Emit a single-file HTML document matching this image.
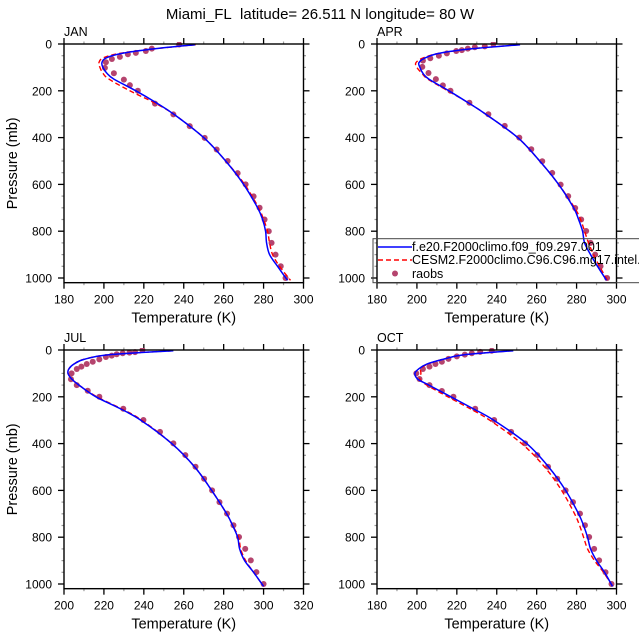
<!DOCTYPE html>
<html><head><meta charset="utf-8"><style>
body{margin:0;background:#fff}
svg{display:block;font-family:"Liberation Sans",Arial,sans-serif}
</style></head><body>
<svg id="chart" width="639" height="639" viewBox="0 0 639 639">
<text x="320" y="19" text-anchor="middle" font-size="15">Miami_FL&#160; latitude= 26.511 N longitude= 80 W</text>
</svg>
<script>
const modelP=[3,20,40,60,80,100,125,150,200,250,300,400,500,600,700,750,800,850,900,950,1010];
const janBlue=[245.7,226,209,201,199,199.5,201.5,205,216,226,235,250,261,270,277,279.5,281,281.5,283,287,292];
const janRed=[246,226,208,199.5,197.5,198,199.5,202.5,213,225,235,250,261,270.5,277.5,280,282,283,284.5,288,293.5];
const aprBlue=[251.7,228,211,204,201,201.5,203,206,216,225.5,234.5,250.5,261.5,271,278.5,281,283,284,287,290.5,295];
const aprRed=[251.5,228,211,203,199.5,200,202.5,205.5,215.5,225.5,234.5,250.5,261.5,271,279,282,284,286,288.5,291.5,295.5];
const julBlue=[254.8,223,210,205,202.5,202,204,207.5,216,228,238.5,254,265.5,274,281.5,284.5,287,288,290.5,295,300];
const julRed=[254.5,223,210,205,202.5,202,204,207.5,216.5,228.5,239,254,265.5,274,281.5,284.5,287.5,288.5,291,295,300];
const octBlue=[248.3,224,213,205,201,199,200.5,206,217,228,238.5,255,266,274.5,281,283.5,285.5,287,290,294,298];
const octRed=[248,224,213,205.5,202,202,201.5,205,215.5,226.5,236.5,252.5,264,272.5,279,281.5,283.5,285.5,289,293.5,298];
const janObsP=[2,20,30,38,44,55,64,78,102,125,152,176,200,255,301,351,401,451,500,552,600,651,700,750,800,850,900,950,1000];
const janObsT=[237.7,224,221,216,212,208,204,201,200.5,205,210,213,217,225.6,234.8,243,250.5,256.5,262,267,271,275,278,280.5,282.6,284,286,288.6,291];
const aprObsP=[0,10,14,20,26,30,40,50,61,71,98,124,150,177,200,251,300,350,400,450,501,551,601,650,701,750,799,850,900,950,1000];
const aprObsT=[238.3,234,229,225.5,222.5,219.7,215,211,206.7,203,202.7,205.8,209.5,213,216.8,226.3,235.8,244,251.3,257.3,262.8,267.8,272,275.8,279.3,282.3,284.8,287,289.3,292,295.3];
const julObsP=[0,9,11,14,18,24,30,40,50,60,71,81,100,125,150,174,200,251,299,350,399,449,499,550,600,650,699,749,799,850,899,949,1000];
const julObsT=[239.3,235.6,232.8,229.4,226.4,223.9,221,217.7,214.4,211.4,208.7,206.4,203.8,203.5,206.4,211.9,217.7,229.7,239.8,248.1,254.8,260.8,265.9,270.2,274.2,277.9,281.7,284.9,287.7,290.8,293.6,296.4,300];
const octObsP=[3,8,14,20,27,38,50,60,71,81,100,124,150,175,200,251,299,350,399,449,499,550,600,650,699,749,799,850,899,950,1000];
const octObsT=[237.5,231.7,227.5,224,220,215.8,212.5,209.3,206.3,203,199.7,201.3,206.3,212.5,218.3,229.2,238.7,247.2,254.2,260.3,265.7,270.3,274.5,278.2,281.7,284.2,286.3,288.8,291.3,294.5,297.5];
const xTicksA=[180,200,220,240,260,280,300];
const xTicksB=[200,220,240,260,280,300,320];
const yTicks=[0,200,400,600,800,1000];

const svg=document.getElementById('chart');
const NS='http://www.w3.org/2000/svg';
function mk(tag,attrs,parent){const e=document.createElementNS(NS,tag);for(const k in attrs)e.setAttribute(k,attrs[k]);(parent||svg).appendChild(e);return e;}

const panels=[
 {name:'jan',label:'JAN',x0:64,y0:44,xmin:180,xmax:300,xt:xTicksA,blue:janBlue,red:janRed,op:janObsP,ot:janObsT,ylab:true},
 {name:'apr',label:'APR',x0:377,y0:44,xmin:180,xmax:300,xt:xTicksA,blue:aprBlue,red:aprRed,op:aprObsP,ot:aprObsT,ylab:false},
 {name:'jul',label:'JUL',x0:64,y0:350,xmin:200,xmax:320,xt:xTicksB,blue:julBlue,red:julRed,op:julObsP,ot:julObsT,ylab:true},
 {name:'oct',label:'OCT',x0:377,y0:350,xmin:180,xmax:300,xt:xTicksA,blue:octBlue,red:octRed,op:octObsP,ot:octObsT,ylab:false}
];
const W=239.5,PS=0.234,PMAX=1020,H=PMAX*PS;

function smoothPath(pts){
 let d='M'+pts[0][0].toFixed(2)+','+pts[0][1].toFixed(2);
 for(let i=0;i<pts.length-1;i++){
  const p0=pts[Math.max(0,i-1)],p1=pts[i],p2=pts[i+1],p3=pts[Math.min(pts.length-1,i+2)];
  const c1=[p1[0]+(p2[0]-p0[0])/6,p1[1]+(p2[1]-p0[1])/6];
  const c2=[p2[0]-(p3[0]-p1[0])/6,p2[1]-(p3[1]-p1[1])/6];
  d+=' C'+c1[0].toFixed(2)+','+c1[1].toFixed(2)+' '+c2[0].toFixed(2)+','+c2[1].toFixed(2)+' '+p2[0].toFixed(2)+','+p2[1].toFixed(2);
 }
 return d;
}

panels.forEach(P=>{
 const g=mk('g',{});
 
 
 const xs=t=>P.x0+(t-P.xmin)/(P.xmax-P.xmin)*W;
 const ys=p=>P.y0+p*PS;
 for(let t=P.xmin;t<=P.xmax;t+=10){
  if((t-P.xmin)%20===0)continue;
  mk('line',{x1:xs(t),x2:xs(t),y1:P.y0,y2:P.y0-2.5,stroke:'#999','stroke-width':1.2},g);
  mk('line',{x1:xs(t),x2:xs(t),y1:P.y0+H,y2:P.y0+H+2.5,stroke:'#999','stroke-width':1.2},g);
 }
 for(let p=50;p<=1000;p+=50){
  if(p%200===0)continue;
  mk('line',{x1:P.x0,x2:P.x0-2.5,y1:ys(p),y2:ys(p),stroke:'#999','stroke-width':1.2},g);
  mk('line',{x1:P.x0+W,x2:P.x0+W+2.5,y1:ys(p),y2:ys(p),stroke:'#999','stroke-width':1.2},g);
 }
 P.xt.forEach(t=>{
  mk('line',{x1:xs(t),x2:xs(t),y1:P.y0,y2:P.y0-6,stroke:'#000','stroke-width':1.3},g);
  mk('line',{x1:xs(t),x2:xs(t),y1:P.y0+H,y2:P.y0+H+6,stroke:'#000','stroke-width':1.3},g);
  const tx=mk('text',{x:xs(t),y:P.y0+H+21,'text-anchor':'middle','font-size':12},g);
  
  
  tx.textContent=t;
 });
 yTicks.forEach(p=>{
  mk('line',{x1:P.x0,x2:P.x0-6,y1:ys(p),y2:ys(p),stroke:'#000','stroke-width':1.3},g);
  mk('line',{x1:P.x0+W,x2:P.x0+W+6,y1:ys(p),y2:ys(p),stroke:'#000','stroke-width':1.3},g);
  const tx=mk('text',{x:P.x0-12,y:ys(p)+4.5,'text-anchor':'end','font-size':12},g);
  
  
  tx.textContent=p;
 });
 const clipId='clip-'+P.name;
 const cp=mk('clipPath',{id:clipId},g);
 mk('rect',{x:P.x0,y:P.y0-2,width:W,height:H+2},cp);
 const dg=mk('g',{'clip-path':'url(#'+clipId+')'},g);
 P.op.forEach((p,i)=>{
  const c=mk('circle',{cx:xs(P.ot[i]),cy:ys(p),r:3,fill:'#b5446e'},dg);
  
  
 });
 const red=mk('path',{d:smoothPath(modelP.map((p,i)=>[xs(P.red[i]),ys(p)])),fill:'none',stroke:'#ff0000','stroke-width':1.4,'stroke-dasharray':'5,3'},dg);
 
 
 const blue=mk('path',{d:smoothPath(modelP.map((p,i)=>[xs(P.blue[i]),ys(p)])),fill:'none',stroke:'#0000ff','stroke-width':1.5},dg);
 
 
 mk('rect',{x:P.x0,y:P.y0,width:W,height:H,fill:'none',stroke:'#000','stroke-width':1.4},g);
 const lb=mk('text',{x:P.x0,y:P.y0-8,'font-size':12.5},g);
 
 
 lb.textContent=P.label;
 const xt=mk('text',{x:P.x0+W/2,y:P.y0+H+40,'text-anchor':'middle','font-size':14.5},g);
 
 
 xt.textContent='Temperature (K)';
 if(P.ylab){
  const yt=mk('text',{x:0,y:0,'text-anchor':'middle','font-size':14.5,transform:'translate(17,'+(P.y0+H/2)+') rotate(-90)'},g);
  
  
  yt.textContent='Pressure (mb)';
 }
});
const lg=mk('g',{});


mk('rect',{x:373,y:238.7,width:270,height:44,fill:'none',stroke:'#444','stroke-width':1},lg);
mk('line',{x1:378,x2:412,y1:247,y2:247,stroke:'#0000ff','stroke-width':1.5},lg);
mk('line',{x1:378,x2:412,y1:260,y2:260,stroke:'#ff0000','stroke-width':1.4,'stroke-dasharray':'5,3'},lg);
mk('circle',{cx:395,cy:273.5,r:3,fill:'#b5446e'},lg);
[['f.e20.F2000climo.f09_f09.297.001',251],['CESM2.F2000climo.C96.C96.mg17.intel.c',264],['raobs',278]].forEach(([t,y])=>{
 const e=mk('text',{x:412,y:y,'font-size':12.5},lg);
 
 
 e.textContent=t;
});
</script>
</body></html>
